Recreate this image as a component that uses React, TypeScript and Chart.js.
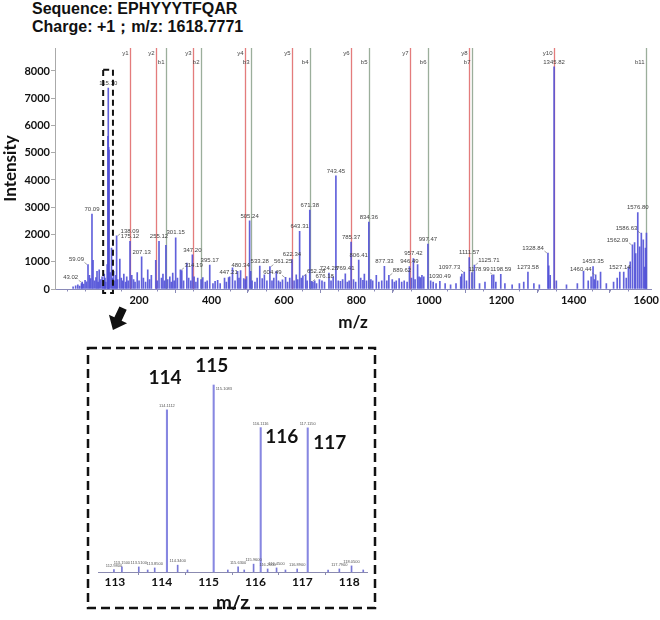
import React, { useEffect, useRef } from 'react';
import { Chart, registerables } from 'chart.js';

Chart.register(...registerables);

// ---------- main spectrum data ----------
const labeledMz = [
  43.02, 59.09, 70.09, 115.10, 138.09, 175.12, 207.13, 255.12, 301.15, 314.19,
  347.20, 395.17, 447.21, 480.34, 505.24, 533.28, 561.25, 604.49, 622.34, 643.31,
  652.28, 671.38, 676.18, 724.28, 743.45, 769.41, 785.37, 806.41, 834.36, 877.33,
  889.62, 946.49, 957.42, 997.47, 1030.49, 1097.73, 1111.57, 1125.71, 1178.99, 1198.59,
  1273.58, 1328.84, 1345.82, 1453.35, 1460.44, 1527.14, 1562.09, 1576.80, 1586.63,
];
const labeledIntensity = [
  250, 900, 2750, 7370, 1950, 1750, 1180, 1750, 1880, 700,
  1250, 880, 420, 680, 2500, 840, 820, 430, 1080, 2120,
  480, 2900, 280, 580, 4150, 560, 1720, 1060, 2460, 830,
  500, 820, 1120, 1650, 280, 620, 1150, 880, 520, 540,
  620, 1320, 8150, 820, 520, 620, 1620, 2800, 2050,
];

const peakMz = [
  18, 25, 31, 36, 41, 47, 51, 55, 63, 66,
  73, 77, 81, 84, 87, 90, 94, 98, 101, 104,
  106, 108, 112, 114.11, 116.11, 117.11, 120, 124, 127, 130,
  133, 136, 141, 147, 151, 155, 158, 163, 166, 170,
  180, 185, 189, 195, 200, 212, 218, 224, 229, 234,
  246.16, 250, 262, 266, 270, 274.15, 279, 285, 289, 293,
  297, 306, 318, 323, 332, 337, 343, 352, 357, 362,
  371.2, 376, 383, 388, 404, 410, 417, 424, 436, 441,
  450, 458, 465, 472, 476, 489, 493, 497, 508.26, 512,
  520, 526, 540, 546, 553, 567, 572, 579, 585, 590,
  596, 610, 616, 628, 634, 638, 648, 660, 664, 680,
  685, 690, 698, 705, 712, 730, 736, 750, 756, 762,
  775, 780, 792, 798, 812, 818, 822, 828, 840, 845,
  855, 862, 870, 884, 899, 905, 910, 918, 925, 932,
  940, 952, 962, 969, 973, 977, 981, 986, 1005, 1012,
  1020, 1045, 1060, 1075, 1088, 1091, 1104, 1119, 1140, 1155,
  1174, 1185, 1210, 1230, 1250, 1262, 1290, 1305, 1331, 1335,
  1352, 1380, 1410, 1427, 1440, 1448, 1457, 1466, 1474, 1490,
  1510, 1520, 1538, 1545, 1551, 1556, 1568, 1571, 1582, 1592,
  1596, 1598, 1600.76,
];
const peakIntensity = [
  80, 120, 150, 110, 200, 180, 320, 260, 500, 380,
  1050, 300, 420, 650, 250, 700, 350, 450, 300, 550,
  400, 250, 900, 5600, 5200, 5100, 600, 1500, 400, 650,
  300, 500, 350, 1100, 400, 300, 550, 250, 450, 300,
  500, 350, 250, 600, 300, 400, 250, 700, 350, 500,
  1050, 300, 400, 550, 300, 1600, 350, 450, 250, 580,
  300, 400, 680, 300, 950, 400, 300, 450, 250, 400,
  350, 420, 250, 300, 200, 280, 320, 200, 400, 250,
  450, 780, 300, 650, 400, 380, 350, 460, 650, 300,
  250, 400, 380, 520, 300, 300, 400, 650, 300, 250,
  340, 250, 400, 300, 520, 350, 400, 520, 300, 250,
  300, 200, 350, 300, 250, 300, 450, 300, 280, 350,
  250, 300, 350, 250, 400, 320, 550, 300, 350, 300,
  500, 250, 300, 300, 350, 250, 300, 380, 250, 300,
  250, 400, 350, 900, 450, 420, 500, 450, 300, 250,
  200, 200, 150, 200, 450, 550, 300, 600, 200, 250,
  500, 250, 200, 150, 200, 250, 200, 150, 850, 500,
  300, 150, 200, 650, 300, 450, 350, 300, 620, 200,
  250, 400, 620, 400, 800, 1000, 1700, 1300, 1550, 1800,
  800, 1500, 2050,
];

const yIonNames = ['y1', 'y2', 'y3', 'y4', 'y5', 'y6', 'y7', 'y8', 'y10'];
const yIonMz = [175.12, 246.16, 349.5, 493.0, 622.33, 785.4, 948.46, 1111.52, 1345.63];
const bIonNames = ['b1', 'b2', 'b3', 'b4', 'b5', 'b6', 'b7', 'b11'];
const bIonMz = [274.15, 371.2, 508.26, 671.32, 834.38, 997.44, 1120.0, 1600.76];

const yTickValues = [0, 1000, 2000, 3000, 4000, 5000, 6000, 7000, 8000];
const xTickValues = [200, 400, 600, 800, 1000, 1200, 1400, 1600];

// ---------- inset data ----------
const reporterNames = ['114', '115', '116', '117'];
const reporterMz = [114.1112, 115.1083, 116.1116, 117.115];
const reporterIntensity = [6390, 7370, 5690, 5680];
const insetMinorMz = [112.98, 113.15, 113.51, 113.7, 113.85, 114.34, 114.55, 115.41, 115.63, 115.76, 115.96, 116.26, 116.45, 116.64, 116.89, 117.55, 117.79, 118.05, 118.3];
const insetMinorIntensity = [100, 200, 200, 80, 160, 270, 80, 80, 200, 80, 310, 120, 160, 80, 120, 80, 120, 240, 80];
const insetTickValues = [113, 114, 115, 116, 117, 118];

const leaderLeft = new Set(['43.02', '59.09', '604.49', '1097.73', '1178.99', '1328.84', '1460.44', '1562.09', '1586.63']);
const leaderRight = new Set(['138.09', '314.19', '561.25', '652.28', '676.18', '889.62', '1125.71']);

const BOLD = 'Lato, "Open Sans", sans-serif';

const mainDecor = {
  id: 'mainDecor',
  beforeDatasetsDraw(chart: any) {
    const { ctx, chartArea, scales } = chart;
    const x = scales.x;
    ctx.save();
    const drawIon = (mz: number, name: string, color: string, ly: number) => {
      const px = Math.round(x.getPixelForValue(mz)) + 0.5;
      ctx.strokeStyle = color;
      ctx.lineWidth = 1.3;
      ctx.beginPath();
      ctx.moveTo(px, chartArea.top);
      ctx.lineTo(px, chartArea.bottom);
      ctx.stroke();
      ctx.fillStyle = '#444';
      ctx.font = '6px "Liberation Sans", Arial, sans-serif';
      ctx.textAlign = 'right';
      ctx.textBaseline = 'middle';
      ctx.fillText(name, px - 2, ly);
    };
    yIonMz.forEach((m, i) => drawIon(m, yIonNames[i], 'rgba(225,110,110,0.9)', chartArea.top + 5));
    bIonMz.forEach((m, i) => drawIon(m, bIonNames[i], 'rgba(150,170,150,0.95)', chartArea.top + 14));
    ctx.restore();
  },
  afterDatasetsDraw(chart: any) {
    const { ctx, chartArea, scales } = chart;
    const x = scales.x;
    const y = scales.y;
    ctx.save();
    // peak labels
    ctx.font = '6px "Liberation Sans", Arial, sans-serif';
    ctx.fillStyle = '#444';
    ctx.strokeStyle = '#666';
    ctx.lineWidth = 0.6;
    labeledMz.forEach((m, i) => {
      const txt = m.toFixed(2);
      const px = x.getPixelForValue(m);
      const py = y.getPixelForValue(labeledIntensity[i]);
      if (leaderLeft.has(txt)) {
        ctx.textAlign = 'right';
        ctx.textBaseline = 'bottom';
        ctx.fillText(txt, px - 4, py - 2);
        ctx.beginPath();
        ctx.moveTo(px - 3.5, py - 2);
        ctx.lineTo(px - 1, py);
        ctx.stroke();
      } else if (leaderRight.has(txt)) {
        ctx.textAlign = 'left';
        ctx.textBaseline = 'bottom';
        ctx.fillText(txt, px + 4, py - 2);
        ctx.beginPath();
        ctx.moveTo(px + 3.5, py - 2);
        ctx.lineTo(px + 1, py);
        ctx.stroke();
      } else {
        ctx.textAlign = 'center';
        ctx.textBaseline = 'bottom';
        ctx.fillText(txt, px, py - 2);
      }
    });
    // minor x ticks
    ctx.strokeStyle = '#8a8ab8';
    ctx.lineWidth = 1;
    for (let v = 0; v <= 1600; v += 50) {
      if (v % 200 === 0 && v > 0) continue;
      const px = Math.round(x.getPixelForValue(v)) + 0.5;
      ctx.beginPath();
      ctx.moveTo(px, chartArea.bottom);
      ctx.lineTo(px, chartArea.bottom + 2.5);
      ctx.stroke();
    }
    // dashed box around reporter region
    const x1 = x.getPixelForValue(101);
    const x2 = x.getPixelForValue(128);
    const y1 = y.getPixelForValue(8050);
    const y2 = chartArea.bottom + 4;
    ctx.strokeStyle = '#111';
    ctx.lineWidth = 2;
    ctx.setLineDash([6, 4]);
    ctx.strokeRect(x1, y1, x2 - x1, y2 - y1);
    ctx.restore();
  },
};

const insetShift: Record<string, [number, number]> = {
  '114': [-2, -32],
  '115': [-2, -19],
  '116': [21, 9],
  '117': [22, 15],
};

const insetDecor = {
  id: 'insetDecor',
  afterDatasetsDraw(chart: any) {
    const { ctx, scales } = chart;
    const x = scales.x;
    const y = scales.y;
    ctx.save();
    ctx.fillStyle = '#555';
    ctx.font = '4px "Liberation Sans", Arial, sans-serif';
    ctx.textBaseline = 'bottom';
    insetMinorMz.forEach((m, i) => {
      if (insetMinorIntensity[i] < 100) return;
      const px = x.getPixelForValue(m);
      const py = y.getPixelForValue(insetMinorIntensity[i]);
      ctx.textAlign = 'center';
      ctx.fillText(m.toFixed(4), px, py - 2);
    });
    reporterMz.forEach((m, i) => {
      const px = x.getPixelForValue(m);
      const py = y.getPixelForValue(reporterIntensity[i]);
      ctx.font = '4px "Liberation Sans", Arial, sans-serif';
      ctx.fillStyle = '#555';
      ctx.textBaseline = 'bottom';
      if (i === 1) {
        ctx.textAlign = 'left';
        ctx.fillText(m.toFixed(4), px + 2, py + 6);
      } else {
        ctx.textAlign = 'center';
        ctx.fillText(m.toFixed(4), px, py - 2);
      }
      const name = reporterNames[i];
      const [dx, dy] = insetShift[name];
      ctx.font = `bold 19px ${BOLD}`;
      ctx.fillStyle = '#111';
      ctx.textAlign = 'center';
      ctx.textBaseline = 'middle';
      ctx.fillText(name, px + dx, py + dy);
    });
    ctx.restore();
  },
};

function MainChart() {
  const ref = useRef<HTMLCanvasElement>(null);
  useEffect(() => {
    const points = [
      ...labeledMz.map((m, i) => ({ x: m, y: labeledIntensity[i] })),
      ...peakMz.map((m, i) => ({ x: m, y: peakIntensity[i] })),
    ].sort((a, b) => a.x - b.x);
    const chart = new Chart(ref.current as HTMLCanvasElement, {
      type: 'bar',
      data: {
        datasets: [
          {
            data: points,
            backgroundColor: 'rgba(80,80,215,0.9)',
            borderWidth: 0,
            barThickness: 1,
          } as any,
        ],
      },
      options: {
        animation: false,
        responsive: false,
        maintainAspectRatio: false,
        layout: { padding: { left: 0, right: 7, top: 8, bottom: 0 } },
        plugins: { legend: { display: false }, tooltip: { enabled: false } },
        scales: {
          x: {
            type: 'linear',
            min: -32,
            max: 1614,
            offset: false,
            grid: { drawOnChartArea: false, drawTicks: true, tickLength: 4, tickColor: '#8a8ab8' },
            border: { display: true, color: '#8a8ab8', width: 1 },
            ticks: {
              autoSkip: false,
              maxRotation: 0,
              padding: 1,
              color: '#111',
              font: { family: BOLD, weight: 'bold', size: 11 },
              callback: (v: any) => String(v),
            },
            afterBuildTicks: (s: any) => {
              s.ticks = xTickValues.map((v) => ({ value: v }));
            },
            afterFit: (s: any) => {
              s.height = 46;
            },
            title: {
              display: true,
              text: 'm/z',
              color: '#111',
              font: { family: BOLD, weight: 'bold', size: 17 },
              padding: { top: 0, bottom: 2 },
            },
          } as any,
          y: {
            min: 0,
            max: 8844,
            grid: { drawOnChartArea: false, drawTicks: true, tickLength: 4, tickColor: '#aaa' },
            border: { display: true, color: '#aaa', width: 1 },
            ticks: {
              padding: 1,
              color: '#111',
              font: { family: BOLD, weight: 'bold', size: 11 },
              callback: (v: any) => String(v),
            },
            afterBuildTicks: (s: any) => {
              s.ticks = yTickValues.map((v) => ({ value: v }));
            },
            afterFit: (s: any) => {
              s.width = 55;
            },
            title: {
              display: true,
              text: 'Intensity',
              color: '#111',
              font: { family: BOLD, weight: 'bold', size: 17 },
              padding: { top: 0, bottom: 0 },
            },
          } as any,
        },
      },
      plugins: [mainDecor],
    });
    return () => chart.destroy();
  }, []);
  return <canvas ref={ref} width={660} height={295} style={{ position: 'absolute', left: 0, top: 40, display: 'block' }} />;
}

function InsetChart() {
  const ref = useRef<HTMLCanvasElement>(null);
  useEffect(() => {
    const chart = new Chart(ref.current as HTMLCanvasElement, {
      type: 'bar',
      data: {
        datasets: [
          {
            data: reporterMz.map((m, i) => ({ x: m, y: reporterIntensity[i] })),
            backgroundColor: 'rgba(135,135,225,1)',
            borderWidth: 0,
            barThickness: 1.4,
            grouped: false,
          } as any,
          {
            data: insetMinorMz.map((m, i) => ({ x: m, y: insetMinorIntensity[i] })),
            backgroundColor: 'rgba(120,120,215,1)',
            borderWidth: 0,
            barThickness: 1,
            grouped: false,
          } as any,
        ],
      },
      options: {
        animation: false,
        responsive: false,
        maintainAspectRatio: false,
        layout: { padding: { left: 10, right: 8, top: 10, bottom: 0 } },
        plugins: { legend: { display: false }, tooltip: { enabled: false } },
        scales: {
          x: {
            type: 'linear',
            min: 112.64,
            max: 118.38,
            offset: false,
            grid: { drawOnChartArea: false, drawTicks: true, tickLength: 3, tickColor: '#8a8ab0' },
            border: { display: true, color: '#8a8ab0', width: 1 },
            ticks: {
              autoSkip: false,
              maxRotation: 0,
              padding: 0,
              color: '#111',
              font: { family: BOLD, weight: 'bold', size: 12 },
              callback: (v: any) => String(v),
            },
            afterBuildTicks: (s: any) => {
              s.ticks = insetTickValues.map((v) => ({ value: v }));
            },
            afterFit: (s: any) => {
              s.height = 40;
            },
            title: {
              display: true,
              text: 'm/z',
              color: '#111',
              font: { family: BOLD, weight: 'bold', size: 19, lineHeight: 1 },
              padding: { top: 0, bottom: 0 },
            },
          } as any,
          y: { display: false, min: 0, max: 8355 },
        },
      },
      plugins: [insetDecor],
    });
    return () => chart.destroy();
  }, []);
  return <canvas ref={ref} width={287} height={262} style={{ position: 'absolute', left: 88, top: 350, display: 'block' }} />;
}

export default function App() {
  const headStyle: React.CSSProperties = {
    position: 'absolute',
    left: 32,
    fontFamily: '"Liberation Sans", Arial, sans-serif',
    fontWeight: 'bold',
    fontSize: 16,
    lineHeight: '18px',
    color: '#111',
    whiteSpace: 'nowrap',
  };
  return (
    <div style={{ position: 'absolute', left: 0, top: 0, width: 660, height: 620, background: '#fff', overflow: 'hidden' }}>
      <div style={{ ...headStyle, top: 0 }}>Sequence: EPHYYYTFQAR</div>
      <div style={{ ...headStyle, top: 18 }}>Charge: +1；m/z: 1618.7771</div>
      <MainChart />
      <InsetChart />
      <svg width={660} height={620} style={{ position: 'absolute', left: 0, top: 0, pointerEvents: 'none' }}>
        <rect x={88} y={348} width={287} height={260} fill="none" stroke="#111" strokeWidth={2.5} strokeDasharray="9 5" />
        <g transform="translate(118,319) rotate(25)">
          <polygon points="-4,-12 4,-12 4,0 10,0 0,12 -10,0 -4,0" fill="#111" />
        </g>
      </svg>
    </div>
  );
}
